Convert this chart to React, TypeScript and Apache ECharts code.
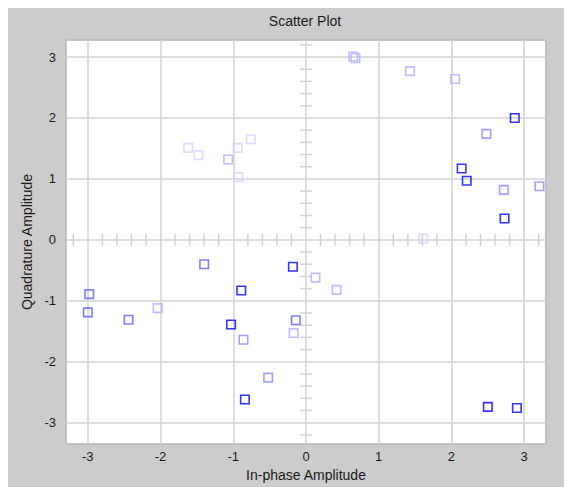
import React, { useEffect, useRef } from "react";
import * as echarts from "echarts";

// Tick labels of both axes
const tickValues = [-3, -2, -1, 0, 1, 2, 3];
const tickLabels = ["-3", "-2", "-1", "0", "1", "2", "3"];

// Points grouped by shade (oldest = faintest)
const faintPts = [
  [1.61, 0.02], [-1.62, 1.51], [-1.48, 1.39], [-0.76, 1.65], [-0.94, 1.51], [-0.93, 1.03],
];
const lightPts = [
  [0.65, 3.01], [0.68, 2.98], [1.43, 2.77], [2.05, 2.64], [0.13, -0.62], [0.42, -0.82],
  [-2.04, -1.12], [-0.17, -1.53], [-1.07, 1.32],
];
const midLightPts = [
  [2.48, 1.74], [2.72, 0.82], [3.21, 0.88], [-0.86, -1.64], [-0.52, -2.26],
];
const mediumPts = [
  [-1.4, -0.4], [-2.98, -0.89], [-3.0, -1.19], [-2.44, -1.31], [-0.14, -1.32],
];
const darkPts = [
  [2.87, 2.0], [2.14, 1.17], [2.21, 0.97], [2.73, 0.35], [-0.18, -0.44], [-0.89, -0.83],
  [-1.03, -1.39], [-0.84, -2.62], [2.5, -2.74], [2.9, -2.76],
];

const FONT = "'Liberation Sans', Arial, sans-serif";

const labelFor = (v: number) => {
  if (Math.abs(v - Math.round(v)) > 1e-6) return "";
  const i = tickValues.indexOf(Math.round(v));
  return i >= 0 ? tickLabels[i] : "";
};

export default function App() {
  const ref = useRef<HTMLDivElement>(null);
  useEffect(() => {
    if (!ref.current) return;
    const chart = echarts.init(ref.current, undefined, { renderer: "svg" });
    const crossTicks: number[] = [];
    for (let k = -16; k <= 16; k++) {
      if (k % 5 !== 0) crossTicks.push(Math.round(k * 0.2 * 1000) / 1000);
    }
    const gridColor = "#d2d2d2";
    const mk = (data: number[][], color: string) => ({
      type: "scatter",
      data,
      symbol: "rect",
      symbolSize: 8.5,
      itemStyle: { color: "rgba(255,255,255,0)", borderColor: color, borderWidth: 1.6 },
      z: 5,
      silent: true,
    });
    chart.setOption({
      animation: false,
      backgroundColor: "#cccccc",
      graphic: [
        {
          type: "text",
          x: 297,
          y: 13,
          style: {
            text: "Scatter Plot",
            font: `14px ${FONT}`,
            fill: "#1a1a1a",
            textAlign: "center",
            textVerticalAlign: "middle",
            align: "center",
            verticalAlign: "middle",
          },
        },
      ],
      grid: {
        left: 58,
        right: 19,
        top: 32,
        bottom: 43,
        show: true,
        backgroundColor: "#ffffff",
        borderColor: "#333333",
        borderWidth: 1,
      },
      xAxis: {
        type: "value",
        min: -3.3,
        max: 3.3,
        splitNumber: 6,
        name: "In-phase Amplitude",
        nameLocation: "middle",
        nameGap: 23,
        nameTextStyle: { fontFamily: FONT, fontSize: 14, color: "#1a1a1a" },
        axisLine: { show: false },
        axisTick: { show: false },
        axisLabel: {
          formatter: labelFor,
          fontFamily: FONT,
          fontSize: 13,
          color: "#1a1a1a",
          margin: 6,
        },
        splitLine: { show: true, lineStyle: { color: gridColor, width: 1.5 } },
      },
      yAxis: {
        type: "value",
        min: -3.35,
        max: 3.28,
        splitNumber: 6,
        name: "Quadrature Amplitude",
        nameLocation: "middle",
        nameGap: 25,
        nameTextStyle: { fontFamily: FONT, fontSize: 14, color: "#1a1a1a" },
        axisLine: { show: false },
        axisTick: { show: false },
        axisLabel: {
          formatter: labelFor,
          fontFamily: FONT,
          fontSize: 13,
          color: "#1a1a1a",
          margin: 10,
        },
        splitLine: { show: true, lineStyle: { color: gridColor, width: 1.5 } },
      },
      series: [
        {
          type: "custom",
          data: [[0, 0]],
          silent: true,
          z: 4,
          renderItem: (params: any, api: any) => {
            const children: any[] = [];
            for (const v of crossTicks) {
              const p = api.coord([v, 0]);
              children.push({
                type: "line",
                shape: { x1: p[0], y1: p[1] - 6, x2: p[0], y2: p[1] + 6 },
                style: { stroke: gridColor, lineWidth: 1.5 },
              });
              const q = api.coord([0, v]);
              children.push({
                type: "line",
                shape: { x1: q[0] - 6, y1: q[1], x2: q[0] + 6, y2: q[1] },
                style: { stroke: gridColor, lineWidth: 1.5 },
              });
            }
            return { type: "group", children };
          },
        },
        mk(faintPts, "#d2d2ff"),
        mk(lightPts, "#acacff"),
        mk(midLightPts, "#8a8aff"),
        mk(mediumPts, "#5c5cff"),
        mk(darkPts, "#0000ff"),
      ],
    });
    return () => chart.dispose();
  }, []);
  return <div ref={ref} style={{ width: 557, height: 479 }} />;
}
